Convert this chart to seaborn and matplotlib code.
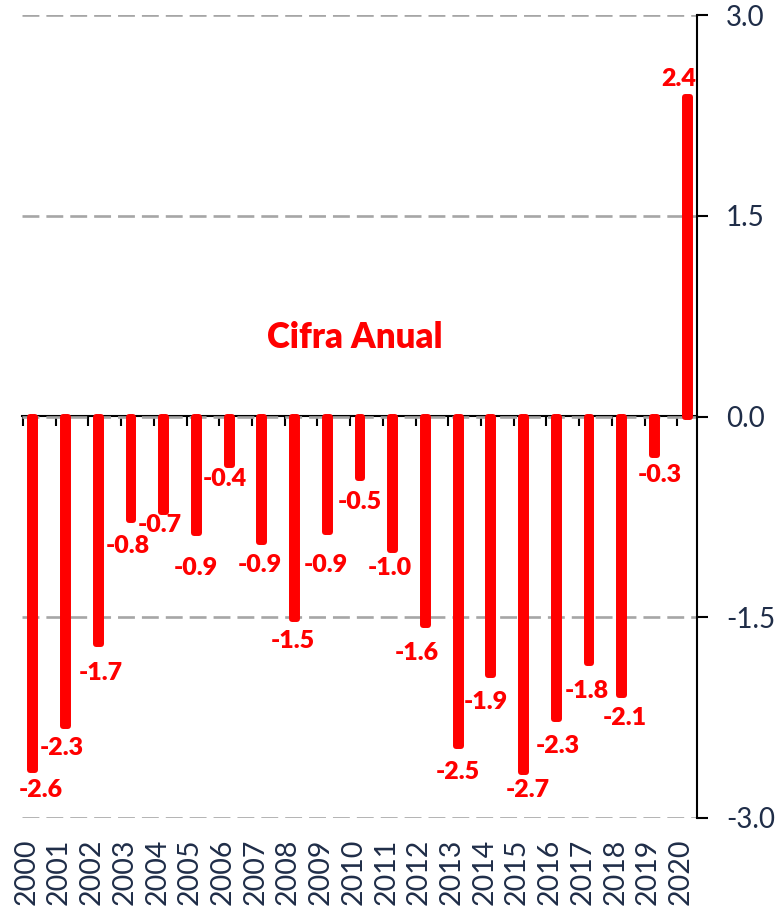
import matplotlib
matplotlib.use("Agg")
import matplotlib.pyplot as plt
import seaborn as sns

# data
years = [str(y) for y in range(2000, 2021)]
values = [-2.64, -2.31, -1.70, -0.77, -0.71, -0.87, -0.36, -0.94, -1.51, -0.86, -0.46,
          -1.00, -1.56, -2.46, -1.93, -2.66, -2.26, -1.84, -2.08, -0.29, 2.39]
value_labels = [f"{v:.1f}" for v in values]
y_ticks = [-3.0, -1.5, 0.0, 1.5, 3.0]
title = "Cifra Anual"

# label nudges (category units, data units) to mimic the original placement
label_dx = [0.24, -0.12, 0.07, -0.10, -0.13, -0.03, -0.12, -0.05, -0.04, -0.04, 0.0,
            -0.09, -0.26, -0.01, -0.16, 0.12, 0.04, -0.08, 0.08, 0.15, -0.27]
label_dy = [-0.15, -0.17, -0.22, -0.20, -0.10, -0.26, -0.11, -0.17, -0.17, -0.25, -0.18,
            -0.13, -0.21, -0.20, -0.20, -0.13, -0.20, -0.21, -0.17, -0.15, 0.13]

red = "#FF0000"
navy = "#1F2D48"

sns.set_style("white")
plt.rcParams["font.family"] = ["Lato", "DejaVu Sans"]

fig = plt.figure(figsize=(7.78, 9.07), dpi=100)
ax = fig.add_axes([22 / 778, 1 - 818 / 907, (697 - 22) / 778, (818 - 15) / 907])

sns.barplot(x=years, y=values, color=red, saturation=1, width=0.15,
            edgecolor=red, linewidth=4.3, ax=ax, zorder=3)
for p in ax.patches:
    p.set_joinstyle("round")

ax.set_xlim(-0.33, 20.30)
ax.set_ylim(-3.0, 3.0)

# gridlines
ax.set_yticks(y_ticks)
ax.set_yticklabels([f"{t:.1f}" for t in y_ticks])
ax.yaxis.grid(True, color="#A6A6A6", linewidth=1.9, linestyle=(0, (6.4, 2.65)), zorder=0)
ax.xaxis.grid(False)

# right axis
ax.yaxis.tick_right()
for s in ["left", "top", "bottom"]:
    ax.spines[s].set_visible(False)
ax.spines["right"].set_visible(True)
ax.spines["right"].set_color("black")
ax.spines["right"].set_linewidth(1.5)
ax.tick_params(axis="y", direction="out", length=8, width=1.5, color="black",
               labelsize=20, labelcolor=navy, pad=13, right=True, left=False)

# year labels at the bottom
ax.set_xticks([i - 0.2 for i in range(len(years))])
ax.set_xticklabels(years, rotation=90)
ax.tick_params(axis="x", length=0, labelsize=20.5, labelcolor=navy, pad=15)
ax.set_xlabel("")
ax.set_ylabel("")

# zero line with tick marks
sec = ax.secondary_xaxis(0.5)
sec.set_alignment("bottom")
sec.set_xticks([i - 0.3 for i in range(len(years))])
sec.tick_params(axis="x", bottom=True, top=False, direction="out", length=7.5,
                width=1.5, color="black", labelbottom=False, labeltop=False)
sec.spines["bottom"].set_linewidth(1.5)
sec.spines["bottom"].set_color("black")

# value labels
for i, (v, lab) in enumerate(zip(values, value_labels)):
    ax.text(i + label_dx[i], v + label_dy[i], lab, ha="center", va="center",
            fontsize=18, fontweight="heavy", color=red, zorder=5)

ax.text(9.85, 0.59, title, ha="center", va="center", fontsize=25,
        fontweight="heavy", color=red, zorder=5)

fig.savefig("out.png", dpi=100)
